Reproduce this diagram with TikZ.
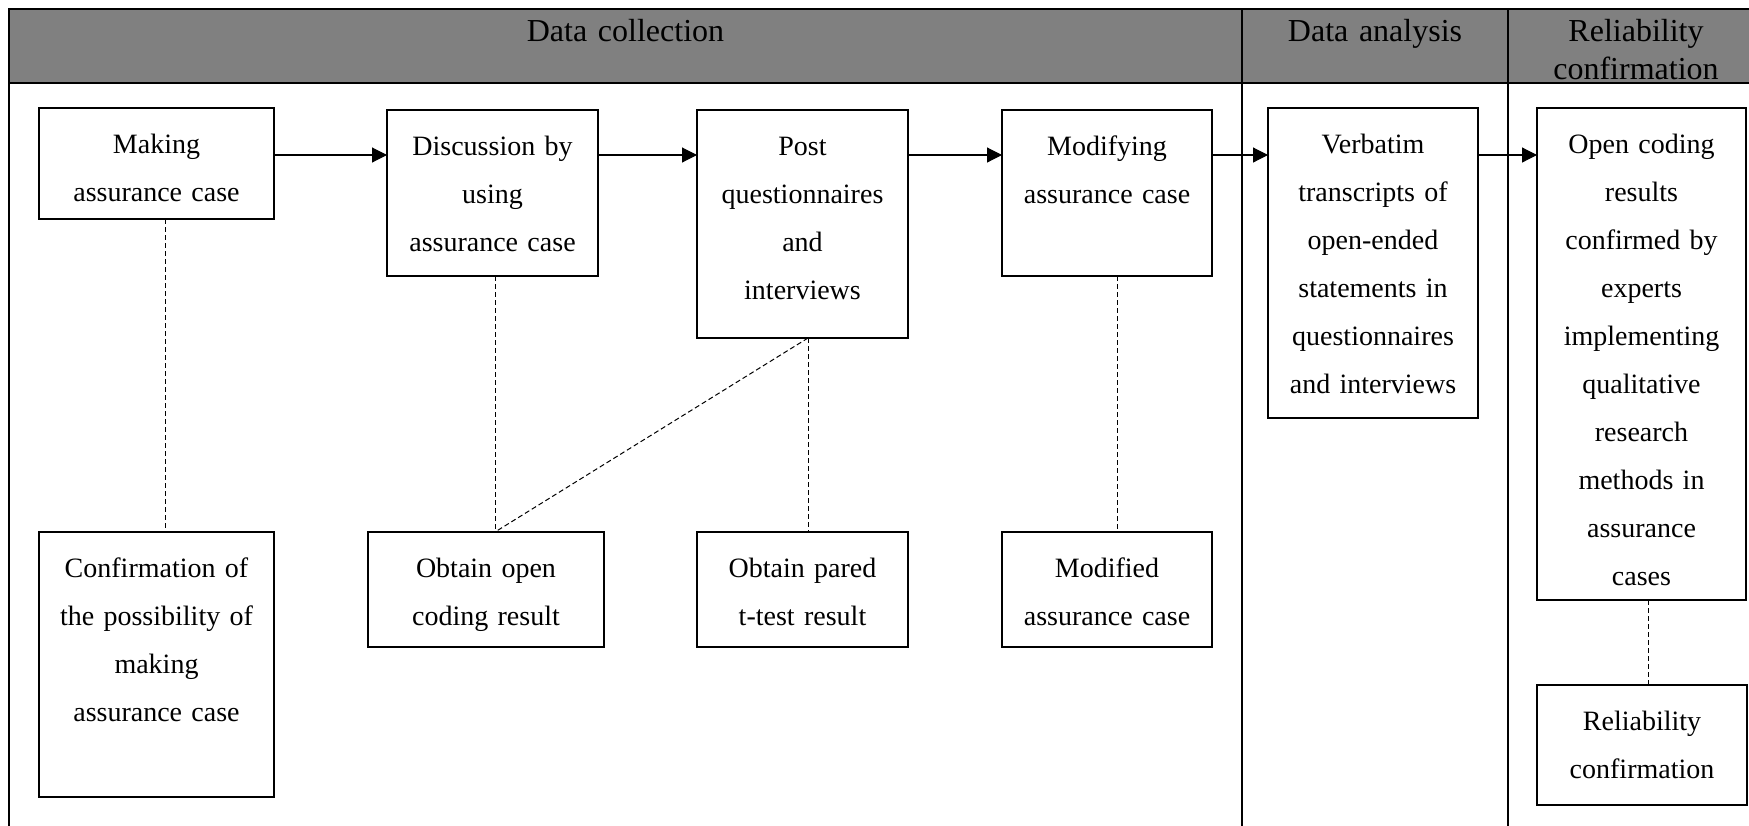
\documentclass[tikz,border=0pt]{standalone}
\usepackage{fontspec}
\setmainfont{Liberation Serif}
\usetikzlibrary{arrows.meta}

\definecolor{headgray}{RGB}{128,128,128}
\newcommand{\boxfont}{\fontsize{14pt}{24pt}\selectfont}
\newcommand{\headfont}{\fontsize{16pt}{19pt}\selectfont}

\begin{document}
\begin{tikzpicture}[x=0.5pt, y=-0.5pt,
  stepbox/.style 2 args={draw, line width=0.55pt, inner sep=0pt, outer sep=0pt,
    anchor=north west, align=center, font=\boxfont,
    text width=#1, text height=22.5pt, text depth=#2-22.5pt},
  headcell/.style 2 args={fill=headgray, inner sep=0pt, outer sep=0pt,
    anchor=north west, align=center, font=\headfont,
    text width=#1, text height=16pt, text depth=#2-16pt},
  frame/.style={line width=1.4pt},
  flow/.style={line width=0.55pt, -{Triangle[length=7.5pt,width=7.5pt]}},
  link/.style={line width=0.5pt, dash pattern=on 2.5pt off 1.5pt},
]
\useasboundingbox (0,0) rectangle (1749,825);
\clip (0,0) rectangle (1749,825);

% header row of the three phases
\node[headcell={616.5pt}{37pt}] (hcol) at (9,9) {Data collection};
\node[headcell={133pt}{37pt}]   (hana) at (1242,9) {Data analysis};
\node[headcell={128pt}{37pt}]   (hrel) at (1508,9) {Reliability\\confirmation};

% table frame and column dividers
\draw[frame] (9,900) -- (9,9) -- (1800,9);
\draw[frame] (9,83) -- (1800,83);
\draw[frame] (1242,9) -- (1242,900);
\draw[frame] (1508,9) -- (1508,900);

% upper row: process steps
\node[stepbox={117.5pt}{55.5pt}] (making) at (39,108)   {Making\\assurance case};
\node[stepbox={105.5pt}{83pt}]   (disc)   at (387,110)  {Discussion by\\using\\assurance case};
\node[stepbox={105.5pt}{114pt}]  (post)   at (697,110)  {Post\\questionnaires\\and\\interviews};
\node[stepbox={105pt}{83pt}]     (modif)  at (1002,110) {Modifying\\assurance case};
\node[stepbox={105pt}{155pt}]    (verb)   at (1268,108) {Verbatim\\transcripts of\\open-ended\\statements in\\questionnaires\\and interviews};
\node[stepbox={104.5pt}{246pt}]  (open)   at (1537,108) {Open coding\\results\\confirmed by\\experts\\implementing\\qualitative\\research\\methods in\\assurance\\cases};

% lower row: outcomes
\node[stepbox={117.5pt}{132.5pt}] (confirm)  at (39,532)   {Confirmation of\\the possibility of\\making\\assurance case};
\node[stepbox={118pt}{57.5pt}]    (obtopen)  at (368,532)  {Obtain open\\coding result};
\node[stepbox={105.5pt}{57.5pt}]  (obtpared) at (697,532)  {Obtain pared\\t-test result};
\node[stepbox={105pt}{57.5pt}]    (modified) at (1002,532) {Modified\\assurance case};
\node[stepbox={105pt}{60pt}]      (relconf)  at (1537,685) {Reliability\\confirmation};

% main flow
\coordinate (flowy) at (0,155);
\draw[flow] (making.east |- flowy) -- (disc.west |- flowy);
\draw[flow] (disc.east |- flowy)   -- (post.west |- flowy);
\draw[flow] (post.east |- flowy)   -- (modif.west |- flowy);
\draw[flow] (modif.east |- flowy)  -- (verb.west |- flowy);
\draw[flow] (verb.east |- flowy)   -- (open.west |- flowy);

% dashed links from steps to outcomes
\coordinate (postfoot) at ([xshift=2.75pt]post.south);
\coordinate (openjoin) at ([xshift=1.25pt]disc.south |- obtopen.north);
\draw[link] ([xshift=4.25pt]making.south) -- ([xshift=4.25pt]making.south |- confirm.north);
\draw[link] ([xshift=1.25pt]disc.south) -- (openjoin);
\draw[link] (postfoot) -- (postfoot |- obtpared.north);
\draw[link] (postfoot) -- (openjoin);
\draw[link] ([xshift=5pt]modif.south) -- ([xshift=5pt]modif.south |- modified.north);
\draw[link] ([xshift=3.25pt]open.south) -- ([xshift=3.25pt]open.south |- relconf.north);
\end{tikzpicture}
\end{document}
